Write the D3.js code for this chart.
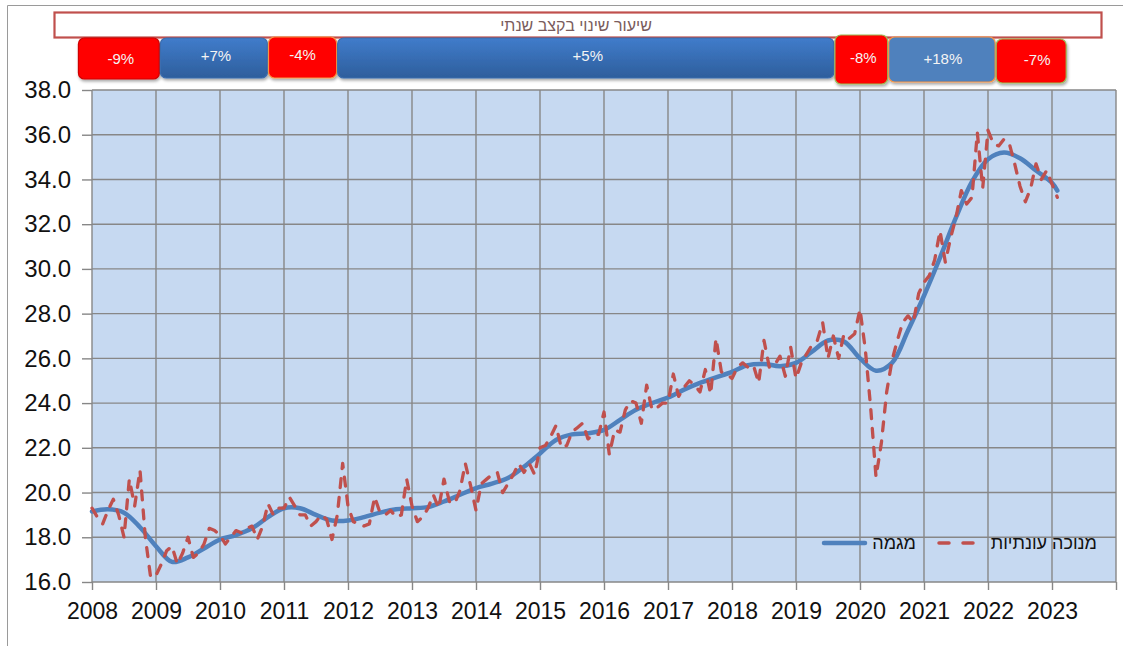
<!DOCTYPE html>
<html>
<head>
<meta charset="utf-8">
<script src="https://cdnjs.cloudflare.com/ajax/libs/d3/7.8.5/d3.min.js"></script>
<style>
  html, body { margin: 0; padding: 0; background: #fff; }
  svg { display: block; font-family: "Liberation Sans", Arial, "DejaVu Sans", sans-serif; }
</style>
</head>
<body>
<div id="chart"></div>
<script>
// monthly series, starting January 2008
const startYear = 2008;
const seasonallyAdjusted = [
  19.3, 18.9, 18.6, 19.2, 19.7, 19.0, 18.0, 20.6, 19.4, 21.0, 18.0, 16.2, // 2008
  16.3, 16.8, 17.4, 17.6, 16.8, 17.3, 18.0, 17.1, 17.3, 17.7, 18.4, 18.3, // 2009
  18.1, 17.7, 18.0, 18.3, 18.2, 18.4, 18.5, 17.9, 18.5, 19.5, 19.0, 19.3, // 2010
  19.3, 19.8, 19.4, 19.0, 19.0, 18.5, 18.7, 19.0, 18.8, 17.9, 19.0, 21.3, // 2011
  19.4, 18.7, 18.6, 18.5, 18.6, 19.8, 19.1, 19.0, 19.2, 18.9, 19.0, 20.6, // 2012
  19.4, 18.7, 18.9, 19.3, 19.9, 19.3, 20.6, 19.6, 19.5, 20.1, 21.3, 20.3, // 2013
  19.2, 20.4, 20.6, 20.8, 20.9, 20.0, 20.4, 20.8, 21.3, 20.9, 21.3, 20.8, // 2014
  22.0, 22.1, 22.5, 23.0, 22.0, 22.1, 22.7, 22.9, 23.1, 22.4, 22.6, 22.6, // 2015
  23.6, 21.7, 22.8, 22.7, 23.7, 24.1, 24.0, 23.1, 24.8, 23.7, 23.8, 24.0, // 2016
  24.0, 25.3, 24.3, 24.7, 25.0, 24.8, 24.5, 25.5, 24.4, 26.9, 25.4, 25.3, // 2017
  25.1, 25.6, 25.8, 25.6, 25.7, 24.9, 26.8, 25.6, 25.7, 26.1, 25.2, 26.5, // 2018
  25.1, 25.8, 26.2, 26.6, 26.8, 27.6, 26.0, 27.0, 26.0, 27.1, 26.9, 27.1, // 2019
  28.2, 26.4, 23.8, 20.7, 22.2, 24.5, 25.9, 26.8, 27.6, 27.9, 27.6, 28.9, // 2020
  29.4, 29.7, 30.4, 31.7, 30.3, 31.4, 32.3, 33.5, 32.9, 33.2, 36.1, 33.6, // 2021
  36.2, 35.6, 35.5, 35.8, 35.6, 34.7, 33.7, 33.0, 33.6, 34.7, 34.0, 34.4, // 2022
  33.8, 33.2                                                              // 2023
];

// trend, one value per quarter from 2008 Q1, plus the last month
const trendQuarterly = [
  19.15, 19.25, 19.1, 18.45,
  17.6, 16.9, 17.1, 17.5,
  17.9, 18.1, 18.4, 18.9,
  19.3, 19.3, 19.0, 18.75,
  18.75, 18.9, 19.1, 19.25,
  19.3, 19.35, 19.6, 19.9,
  20.2, 20.4, 20.65, 21.15,
  21.75, 22.35, 22.6, 22.65,
  22.8, 23.25, 23.7, 24.0,
  24.25, 24.6, 24.9, 25.15,
  25.4, 25.7, 25.75, 25.65,
  25.8, 26.3, 26.8, 26.75,
  26.0, 25.45, 25.8, 27.25,
  28.8, 30.5, 32.3, 33.9,
  34.9, 35.2, 34.95, 34.4,
  33.85
];
const trendLast = 33.5;

const yTicks = [16, 18, 20, 22, 24, 26, 28, 30, 32, 34, 36, 38];
const xTickYears = d3.range(2008, 2025);
const xLabelYears = d3.range(2008, 2024);

const titleText = 'שיעור שינוי בקצב שנתי';
const legendLabels = ['מגמה', 'מנוכה עונתיות'];

// annual rate of change per period (period bounds in years)
const changeLabels = ['-9%', '+7%', '-4%', '+5%', '-8%', '+18%', '-7%'];
const changeFrom = [2007.78, 2009.06, 2010.75, 2011.83, 2019.6, 2020.44, 2022.12];
const changeTo = [2009.06, 2010.75, 2011.83, 2019.6, 2020.44, 2022.12, 2023.23];

class RateChart {
  constructor(el, width, height) {
    this.rootElement = el;
    this.width = width;
    this.height = height;
    this.plot = { left: 92, right: 1116, top: 90, bottom: 582 };
    this.colors = {
      trend: '#4f81bd',
      adjusted: '#c0504d',
      plotBg: '#c6d9f1',
      grid: '#878787'
    };
    // box look, one per period
    this.boxStyles = [
      { fill: '#ff0000', stroke: '#d00000', top: 38, bottom: 79, dy: 0, dx: 2 },
      { fill: 'url(#blueGrad)', stroke: '#3b6cae', top: 38, bottom: 78, dy: -2, dx: 2 },
      { fill: '#ff0000', stroke: '#f79646', top: 37, bottom: 78, dy: -3, dx: 0 },
      { fill: 'url(#blueGrad)', stroke: '#3b6cae', top: 38, bottom: 78, dy: -2, dx: 2 },
      { fill: '#ff0000', stroke: '#9bbb59', top: 35, bottom: 84, dy: -2, dx: 2 },
      { fill: '#4f81bd', stroke: '#f79646', top: 37, bottom: 82, dy: -1, dx: 1 },
      { fill: '#ff0000', stroke: '#9bbb59', top: 39, bottom: 83, dy: -1, dx: 6 }
    ];
  }

  draw() {
    d3.select(this.rootElement).selectAll('*').remove();
    this.svg = d3.select(this.rootElement).append('svg')
      .attr('width', this.width)
      .attr('height', this.height);
    this._defs();
    this._frame();
    this._scales();
    this._plotArea();
    this._axes();
    this._lines();
    this._legend();
    this._header();
  }

  _defs() {
    const defs = this.svg.append('defs');
    const grad = defs.append('linearGradient').attr('id', 'blueGrad')
      .attr('x1', 0).attr('y1', 0).attr('x2', 0).attr('y2', 1);
    grad.append('stop').attr('offset', '0%').attr('stop-color', '#407ccb');
    grad.append('stop').attr('offset', '100%').attr('stop-color', '#2e5e9c');
    defs.append('filter').attr('id', 'shadow')
      .attr('x', '-10%').attr('y', '-10%').attr('width', '130%').attr('height', '140%')
      .append('feDropShadow')
      .attr('dx', 1).attr('dy', 2).attr('stdDeviation', 1.5)
      .attr('flood-color', '#000').attr('flood-opacity', 0.35);
  }

  _frame() {
    // outer chart border (only top and left fall inside the picture)
    this.svg.append('path')
      .attr('d', `M7.5,${this.height} V5.5 H${this.width}`)
      .attr('fill', 'none')
      .attr('stroke', '#9a9a9a')
      .attr('stroke-width', 1);
  }

  _scales() {
    const p = this.plot;
    this.x = d3.scaleLinear().domain([2008, 2024]).range([p.left, p.right]);
    this.y = d3.scaleLinear().domain([16, 38]).range([p.bottom, p.top]);
  }

  _plotArea() {
    const p = this.plot;
    this.svg.append('rect')
      .attr('x', p.left).attr('y', p.top)
      .attr('width', p.right - p.left).attr('height', p.bottom - p.top)
      .attr('fill', this.colors.plotBg);

    const grid = this.svg.append('g').attr('class', 'grid')
      .attr('stroke', this.colors.grid).attr('stroke-width', 1.4);
    grid.selectAll('line.h').data(yTicks).join('line').attr('class', 'h')
      .attr('x1', p.left).attr('x2', p.right)
      .attr('y1', d => this.y(d)).attr('y2', d => this.y(d));
    grid.selectAll('line.v').data(xTickYears).join('line').attr('class', 'v')
      .attr('x1', d => this.x(d)).attr('x2', d => this.x(d))
      .attr('y1', p.top).attr('y2', p.bottom);
  }

  _axes() {
    const p = this.plot;
    const yAxis = d3.axisLeft(this.y)
      .tickValues(yTicks)
      .tickFormat(d3.format('.1f'))
      .tickSize(10)
      .tickPadding(11);
    const gy = this.svg.append('g')
      .attr('transform', `translate(${p.left},0)`)
      .call(yAxis);
    gy.select('.domain').remove();
    gy.selectAll('line').attr('stroke', this.colors.grid).attr('stroke-width', 1.4);
    gy.selectAll('text').attr('font-size', 24).attr('fill', '#111').attr('font-family', null);

    const xAxis = d3.axisBottom(this.x)
      .tickValues(xTickYears)
      .tickFormat(d => (xLabelYears.includes(d) ? d : ''))
      .tickSize(8)
      .tickPadding(13);
    const gx = this.svg.append('g')
      .attr('transform', `translate(0,${p.bottom})`)
      .call(xAxis);
    gx.select('.domain').remove();
    gx.selectAll('line').attr('stroke', this.colors.grid).attr('stroke-width', 1.4);
    gx.selectAll('text').attr('font-size', 23).attr('fill', '#111').attr('font-family', null);
  }

  _lines() {
    const monthly = seasonallyAdjusted.map((v, i) => ({ t: startYear + i / 12, v }));
    const trend = trendQuarterly.map((v, i) => ({ t: startYear + i / 4, v }));
    trend.push({ t: startYear + (seasonallyAdjusted.length - 1) / 12, v: trendLast });

    const trendLine = d3.line()
      .x(d => this.x(d.t)).y(d => this.y(d.v))
      .curve(d3.curveCatmullRom.alpha(0.5));
    const monthlyLine = d3.line()
      .x(d => this.x(d.t)).y(d => this.y(d.v));

    this.svg.append('path')
      .datum(trend)
      .attr('d', trendLine)
      .attr('fill', 'none')
      .attr('stroke', this.colors.trend)
      .attr('stroke-width', 4.5)
      .attr('stroke-linecap', 'round');

    this.svg.append('path')
      .datum(monthly)
      .attr('d', monthlyLine)
      .attr('fill', 'none')
      .attr('stroke', this.colors.adjusted)
      .attr('stroke-width', 3.3)
      .attr('stroke-linejoin', 'round')
      .attr('stroke-linecap', 'round')
      .attr('stroke-dasharray', '9,10');
  }

  _legend() {
    const g = this.svg.append('g').attr('class', 'legend');
    const ly = 543;
    g.append('line')
      .attr('x1', 824).attr('x2', 865).attr('y1', ly).attr('y2', ly)
      .attr('stroke', this.colors.trend).attr('stroke-width', 4.5).attr('stroke-linecap', 'round');
    g.append('text')
      .attr('x', 916).attr('y', ly).attr('dy', '0.35em')
      .attr('text-anchor', 'end').attr('font-size', 18).attr('fill', '#111')
      .text(legendLabels[0]);
    g.append('line')
      .attr('x1', 939).attr('x2', 976).attr('y1', ly).attr('y2', ly)
      .attr('stroke', this.colors.adjusted).attr('stroke-width', 3.5).attr('stroke-linecap', 'round')
      .attr('stroke-dasharray', '10,14');
    g.append('text')
      .attr('x', 1097).attr('y', ly).attr('dy', '0.35em')
      .attr('text-anchor', 'end').attr('font-size', 18).attr('fill', '#111')
      .text(legendLabels[1]);
  }

  _header() {
    const title = this.svg.append('g');
    title.append('rect')
      .attr('x', 54.5).attr('y', 12.5).attr('width', 1047).attr('height', 25)
      .attr('fill', '#fff').attr('stroke', '#c0504d').attr('stroke-width', 2.2);
    title.append('text')
      .attr('x', 576).attr('y', 25).attr('dy', '0.35em')
      .attr('text-anchor', 'middle').attr('font-size', 16).attr('fill', '#7a5c5c')
      .text(titleText);

    const boxes = changeLabels.map((label, i) => ({
      label, from: changeFrom[i], to: changeTo[i], style: this.boxStyles[i]
    }));
    const g = this.svg.append('g').selectAll('g').data(boxes).join('g');
    g.append('rect')
      .attr('x', d => this.x(d.from) + 0.5)
      .attr('y', d => d.style.top)
      .attr('width', d => this.x(d.to) - this.x(d.from) - 1)
      .attr('height', d => d.style.bottom - d.style.top)
      .attr('rx', 6)
      .attr('fill', d => d.style.fill)
      .attr('stroke', d => d.style.stroke)
      .attr('stroke-width', 1.2)
      .attr('filter', 'url(#shadow)');
    g.append('text')
      .attr('x', d => (this.x(d.from) + this.x(d.to)) / 2 + d.style.dx)
      .attr('y', d => (d.style.top + d.style.bottom) / 2 + d.style.dy)
      .attr('dy', '0.35em')
      .attr('text-anchor', 'middle')
      .attr('font-size', 15)
      .attr('fill', '#f4f4f4')
      .text(d => d.label);
  }
}

const chart = new RateChart(document.getElementById('chart'), 1123, 646);
chart.draw();
</script>
</body>
</html>
